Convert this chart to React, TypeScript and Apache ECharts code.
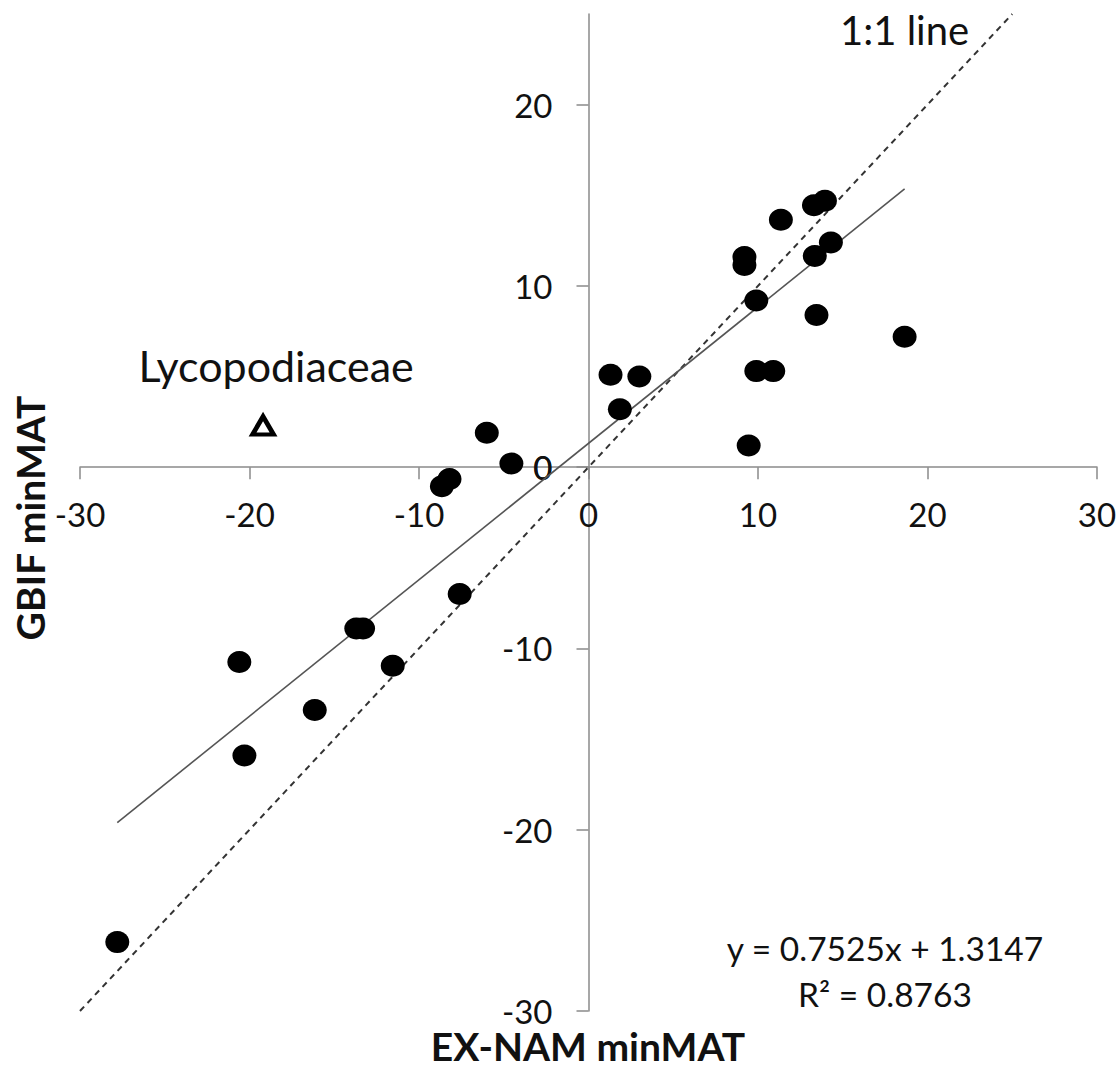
import React, { useEffect, useRef } from "react";
import * as echarts from "echarts";

// EX-NAM minMAT (x) vs GBIF minMAT (y) per family
const exNamMinMat = [
  -27.8, -20.6, -20.3, -16.15, -13.7, -13.3, -11.55, -7.6, -8.65, -8.2, -6.0, -4.55,
  1.3, 1.85, 3.0, 9.45, 9.2, 9.2, 9.9, 9.9, 10.9, 11.35, 13.3, 13.95, 13.35, 14.3, 13.45, 18.65,
];
const gbifMinMat = [
  -26.2, -10.75, -15.9, -13.4, -8.9, -8.9, -10.95, -7.0, -1.05, -0.65, 1.9, 0.2,
  5.1, 3.2, 5.0, 1.2, 11.6, 11.15, 9.2, 5.3, 5.3, 13.65, 14.45, 14.7, 11.65, 12.4, 8.4, 7.2,
];

// Outlier family shown separately
const outlierName = "Lycopodiaceae";
const outlierPoint = [-19.2, 2.3];

// Linear fit reported on the chart
const fitSlope = 0.7525;
const fitIntercept = 1.3147;
const fitR2 = 0.8763;

// Axis settings
const xRange = [-30, 30];
const yRange = [-30, 25];
const yTickValues = [-30, -20, -10, 0, 10, 20];
const xTickValues = [-30, -20, -10, 0, 10, 20, 30];
const identityRange = [-30, 25];

const FONT = "Lato";
const AXIS_GRAY = "#8a8a8a";
const TICK_FONT_SIZE = 33;
const Y_LABEL_MARGIN = 36;

// Plot area in page pixels
const GRID = { left: 80, right: 23, top: 14, bottom: 57 };
const W = 1120;
const H = 1068;

export default function App() {
  const ref = useRef<HTMLDivElement>(null);

  useEffect(() => {
    document.body.style.margin = "0";
    if (!ref.current) return;
    const chart = echarts.init(ref.current, undefined, { renderer: "svg" });

    const points = exNamMinMat.map((x, i) => [x, gbifMinMat[i]]);
    const xMin = Math.min(...exNamMinMat);
    const xMax = Math.max(...exNamMinMat);
    const fitLine = [
      [xMin, fitSlope * xMin + fitIntercept],
      [xMax, fitSlope * xMax + fitIntercept],
    ];
    const oneToOne = identityRange.map((v) => [v, v]);

    // Axes cross at zero: shift each axis (line, ticks and labels) from the grid edge to the origin
    const plotW = W - GRID.left - GRID.right;
    const plotH = H - GRID.top - GRID.bottom;
    const zeroX = GRID.left + ((0 - xRange[0]) / (xRange[1] - xRange[0])) * plotW;
    const zeroY = GRID.top + ((yRange[1] - 0) / (yRange[1] - yRange[0])) * plotH;
    const xAxisOffset = -(H - GRID.bottom - zeroY);
    const yAxisOffset = -(zeroX - GRID.left);

    const axisCommon = {
      type: "value" as const,
      splitLine: { show: false },
      axisLine: { show: true, onZero: false, lineStyle: { color: AXIS_GRAY, width: 1.5 } },
      axisTick: { show: true, inside: false, length: 12, lineStyle: { color: AXIS_GRAY, width: 1.5 } },
    };

    chart.setOption({
      animation: false,
      backgroundColor: "#ffffff",
      grid: { ...GRID, containLabel: false, outerBoundsMode: "none" },
      xAxis: {
        ...axisCommon,
        position: "bottom",
        offset: xAxisOffset,
        min: xRange[0],
        max: xRange[1],
        interval: 10,
        axisTick: { ...axisCommon.axisTick, customValues: xTickValues },
        axisLabel: {
          customValues: xTickValues,
          margin: 30,
          fontFamily: FONT,
          fontSize: TICK_FONT_SIZE,
          color: "#111",
        },
      },
      yAxis: {
        ...axisCommon,
        position: "left",
        offset: yAxisOffset,
        min: yRange[0],
        max: yRange[1],
        interval: 10,
        axisTick: { ...axisCommon.axisTick, customValues: yTickValues },
        axisLabel: {
          customValues: yTickValues,
          margin: Y_LABEL_MARGIN,
          fontFamily: FONT,
          fontSize: TICK_FONT_SIZE,
          color: "#111",
        },
      },
      series: [
        {
          type: "line",
          data: oneToOne,
          showSymbol: false,
          symbol: "none",
          lineStyle: { color: "#333", width: 2, type: [6, 5] },
          z: 2,
        },
        {
          type: "line",
          data: fitLine,
          showSymbol: false,
          symbol: "none",
          lineStyle: { color: "#555", width: 1.6 },
          z: 2,
        },
        {
          type: "scatter",
          data: points,
          symbol: "circle",
          symbolSize: [24, 22],
          itemStyle: { color: "#000", opacity: 1 },
          z: 3,
        },
        {
          type: "scatter",
          data: [outlierPoint],
          symbol: "triangle",
          symbolSize: [21, 18],
          itemStyle: { color: "#fff", borderColor: "#000", borderWidth: 4.5, opacity: 1 },
          label: {
            show: true,
            formatter: outlierName,
            position: "top",
            distance: 27,
            offset: [13, 0],
            fontFamily: FONT,
            fontSize: 43,
            color: "#111",
          },
          z: 3,
        },
      ],
      graphic: [
        {
          // value label at the origin on the vertical axis
          type: "text",
          x: zeroX - Y_LABEL_MARGIN,
          y: zeroY,
          z: 1,
          style: {
            text: "0",
            font: `${TICK_FONT_SIZE}px ${FONT}`,
            fill: "#111",
            align: "right",
            verticalAlign: "middle",
          },
        },
        {
          type: "text",
          left: 840,
          top: 10,
          style: { text: "1:1 line", font: `40px ${FONT}`, fill: "#111" },
        },
        {
          type: "text",
          x: 885,
          y: 971,
          style: {
            text: `y = ${fitSlope}x + ${fitIntercept}\nR² = ${fitR2}`,
            font: `33.5px ${FONT}`,
            fill: "#111",
            align: "center",
            verticalAlign: "middle",
            lineHeight: 46,
          },
        },
        {
          type: "text",
          x: 588,
          y: 1046,
          style: {
            text: "EX-NAM minMAT",
            font: `bold 39px ${FONT}`,
            fill: "#111",
            align: "center",
            verticalAlign: "middle",
            lineHeight: 36,
          },
        },
        {
          type: "text",
          x: 30,
          y: 518,
          rotation: Math.PI / 2,
          style: {
            text: "GBIF minMAT",
            font: `bold 39px ${FONT}`,
            fill: "#111",
            align: "center",
            verticalAlign: "middle",
          },
        },
      ],
    });

    return () => chart.dispose();
  }, []);

  return <div ref={ref} style={{ width: W, height: H }} />;
}
